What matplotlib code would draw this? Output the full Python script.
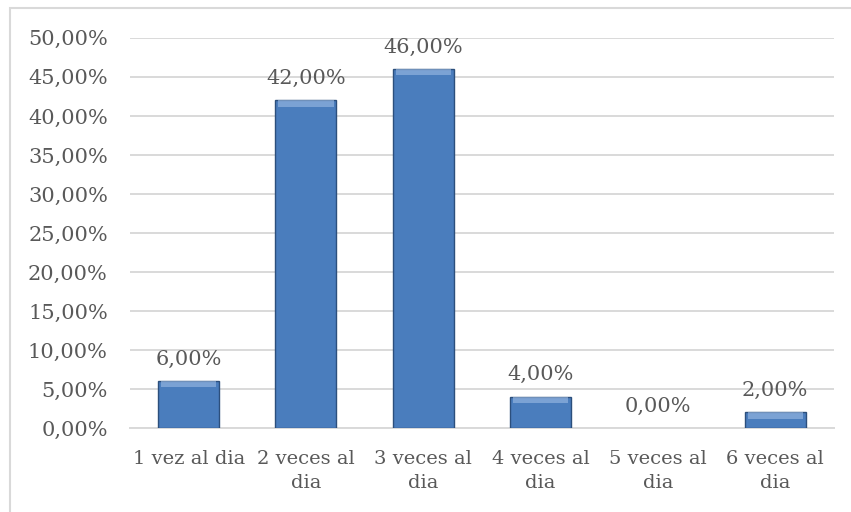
import matplotlib
matplotlib.use("Agg")
import matplotlib.pyplot as plt
from matplotlib.patches import Rectangle
from matplotlib.ticker import FuncFormatter, MultipleLocator

categories = ["1 vez al dia", "2 veces al\ndia", "3 veces al\ndia",
              "4 veces al\ndia", "5 veces al\ndia", "6 veces al\ndia"]
values = [6.0, 42.0, 46.0, 4.0, 0.0, 2.0]

BAR_COLOR = "#4A7DBD"
EDGE_COLOR = "#2C4F7C"
TEXT_COLOR = "#595959"
GRID_COLOR = "#D9D9D9"

plt.rcParams.update({
    "font.family": ["DejaVu Serif"],
    "font.size": 14.5,
})


def pct(v, _pos=None):
    return f"{v:.2f}%".replace(".", ",")


fig = plt.figure(figsize=(8.51, 5.12), dpi=100)
ax = fig.add_axes([0.1528, 0.164, 0.827, 0.762])

x = list(range(len(categories)))
edges = [EDGE_COLOR if v > 0 else "none" for v in values]
ax.bar(x, values, width=0.52, color=BAR_COLOR, edgecolor=edges,
       linewidth=1.0, zorder=3)

# soft bevel strip along the top of each bar
top_h = [min(v, 0.8) for v in values]
ax.bar(x, top_h, bottom=[v - h for v, h in zip(values, top_h)], width=0.47,
       color="#9DBCE4", linewidth=0, zorder=4, alpha=0.6)

for xi, v in zip(x, values):
    ax.annotate(pct(v), (xi, v), xytext=(0, 9), textcoords="offset points",
                ha="center", va="bottom", color=TEXT_COLOR, fontsize=15)

ax.set_xlim(-0.5, len(categories) - 0.5)
ax.set_ylim(0, 50)
ax.yaxis.set_major_locator(MultipleLocator(5))
ax.yaxis.set_major_formatter(FuncFormatter(pct))
ax.set_xticks(x)
ax.set_xticklabels(categories, color=TEXT_COLOR, linespacing=1.4, fontsize=14)
ax.tick_params(axis="y", colors=TEXT_COLOR, length=0, pad=16, labelsize=15)
ax.tick_params(axis="x", colors=TEXT_COLOR, length=0, pad=16)

ax.grid(axis="y", color=GRID_COLOR, linewidth=1.4, zorder=0)
ax.set_axisbelow(True)
for s in ["top", "right", "left"]:
    ax.spines[s].set_visible(False)
ax.spines["bottom"].set_color(GRID_COLOR)
ax.spines["bottom"].set_linewidth(1.4)

# chart frame (only top and left edges fall inside the image)
fig.patches.append(Rectangle((10 / 851, -0.1), 1.2, 1.1 - 8 / 512,
                             transform=fig.transFigure, fill=False,
                             edgecolor="#D9D9D9", linewidth=1.5))

fig.savefig("out.png", dpi=100)
